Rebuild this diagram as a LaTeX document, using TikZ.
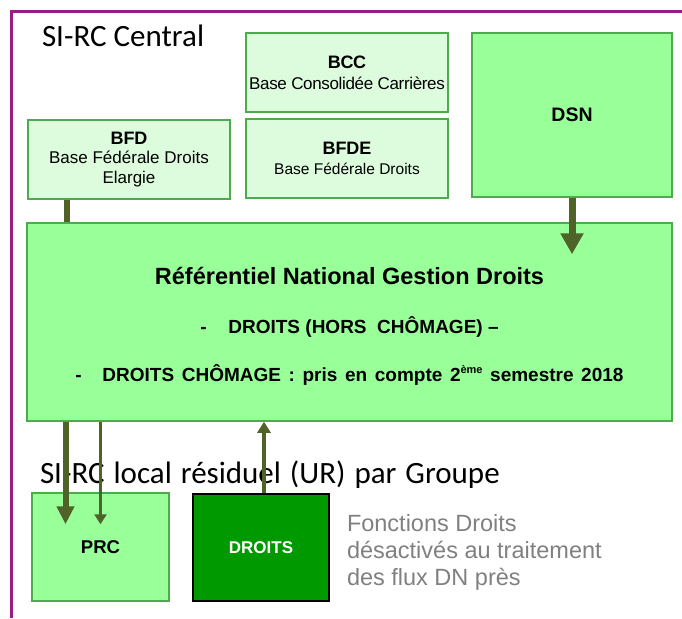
\documentclass[tikz,border=0pt]{standalone}
\usepackage{fontspec}
\setmainfont{Liberation Sans}
\newfontfamily\calibri{Carlito}
\newfontfamily\tightsans[LetterSpace=-2]{Liberation Sans}
\usetikzlibrary{arrows.meta,calc}
\definecolor{purp}{RGB}{155,26,132}
\definecolor{palefill}{RGB}{221,251,221}
\definecolor{brightfill}{RGB}{153,255,153}
\definecolor{boxline}{RGB}{77,170,77}
\definecolor{darkgreen}{RGB}{0,153,0}
\definecolor{olivearr}{RGB}{79,98,40}
\definecolor{graytxt}{RGB}{128,128,128}
\newcommand{\widesp}{\spaceskip=7.6pt\relax}
\newcommand{\calsp}{\spaceskip=9pt\relax}
\newcommand{\boxtitle}[1]{{\fontsize{18}{20}\selectfont\bfseries #1}}
\begin{document}
\begin{tikzpicture}[x=1pt,y=-1pt,
  palebox/.style={draw=boxline,fill=palefill,line width=1.5pt,inner sep=0pt,align=center},
  brightbox/.style={draw=boxline,fill=brightfill,line width=1.5pt,inner sep=0pt,align=center},
  txt/.style={inner sep=0pt,outer sep=0pt},
  conn/.style={draw=olivearr}
]
\useasboundingbox (0,0) rectangle (682,618);
% frame
\draw[purp,line width=3pt] (11,618) -- (11,12) -- (682,12);

% boxes
\node[palebox,minimum width=202pt,minimum height=79pt,font=\tightsans\fontsize{17}{21}\selectfont] (bcc) at (347,72.5)
  {\boxtitle{BCC}\\Base Consolidée Carrières};
\node[palebox,minimum width=202pt,minimum height=79pt,font=\fontsize{17}{19.5}\selectfont] (bfd) at (129,159.5)
  {\boxtitle{BFD}\\Base Fédérale Droits\\Elargie};
\node[palebox,minimum width=202pt,minimum height=79pt,font=\fontsize{15.5}{20}\selectfont] (bfde) at (347,158.5)
  {\boxtitle{BFDE}\\Base Fédérale Droits};
\node[brightbox,minimum width=200pt,minimum height=164pt,font=\fontsize{19.5}{22}\selectfont\bfseries] (dsn) at (572,115) {DSN};
\node[brightbox,minimum width=645pt,minimum height=198pt] (big) at (349.5,322) {};
\node[brightbox,minimum width=137pt,minimum height=108pt,font=\fontsize{18.5}{20}\selectfont\bfseries] (prc) at (100.5,547) {PRC};
\node[draw=black,fill=darkgreen,line width=1.5pt,inner sep=0pt,minimum width=136pt,minimum height=107pt,text=white,font=\fontsize{17}{20}\selectfont\bfseries] (droits) at (261,547.5) {DROITS};

% texts in big box
\node[txt,anchor=base,font=\fontsize{23.5}{26}\selectfont\bfseries] (t1) at (349.5,284) {Référentiel National Gestion Droits};
\node[txt,anchor=base,font=\fontsize{19}{22}\selectfont\bfseries] (t2) at (349.5,333)
  {\makebox[28pt][l]{-}DROITS (HORS\ \ CHÔMAGE) –};
\node[txt,anchor=base,font=\fontsize{19}{22}\selectfont\bfseries] (t3) at (349.5,381)
  {\widesp\makebox[27pt][l]{-}DROITS CHÔMAGE : pris en compte 2\raisebox{0.42em}{\fontsize{11}{11}\selectfont ème} semestre 2018};

% titles
\node[txt,anchor=base west,font=\calibri\fontsize{31}{34}\selectfont] (central) at (42,47) {SI-RC Central};
\node[txt,anchor=base west,font=\calibri\fontsize{31}{34}\selectfont] (local) at (40,483) {\calsp SI-RC local résiduel (UR) par Groupe};
\node[txt,anchor=north west,align=left,text=graytxt,font=\fontsize{23.5}{27}\selectfont] (note) at (347,514)
  {Fonctions Droits\\désactivés au traitement\\des flux DN près};

% connectors
\coordinate (xa) at (67,0);
\coordinate (xb) at (65.5,0);
\coordinate (xc) at (100.5,0);
\coordinate (xd) at (264,0);
\draw[conn,line width=6pt] (bfd.south -| xa) -- (big.north -| xa);
\draw[conn,line width=7pt,-{Triangle[width=22pt,length=21pt]}] (dsn.south) -- ($(big.north -| dsn.south)+(0,32)$);
\draw[conn,line width=6pt,-{Triangle[width=17pt,length=18pt]}] (big.south -| xb) -- ($(prc.north -| xb)+(0,32)$);
\draw[conn,line width=3.5pt,-{Triangle[width=12pt,length=10pt]}] (big.south -| xc) -- ($(prc.north -| xc)+(0,32)$);
\draw[conn,line width=4pt,-{Triangle[width=13pt,length=11pt]}] (droits.north -| xd) -- (big.south -| xd);
\end{tikzpicture}
\end{document}
